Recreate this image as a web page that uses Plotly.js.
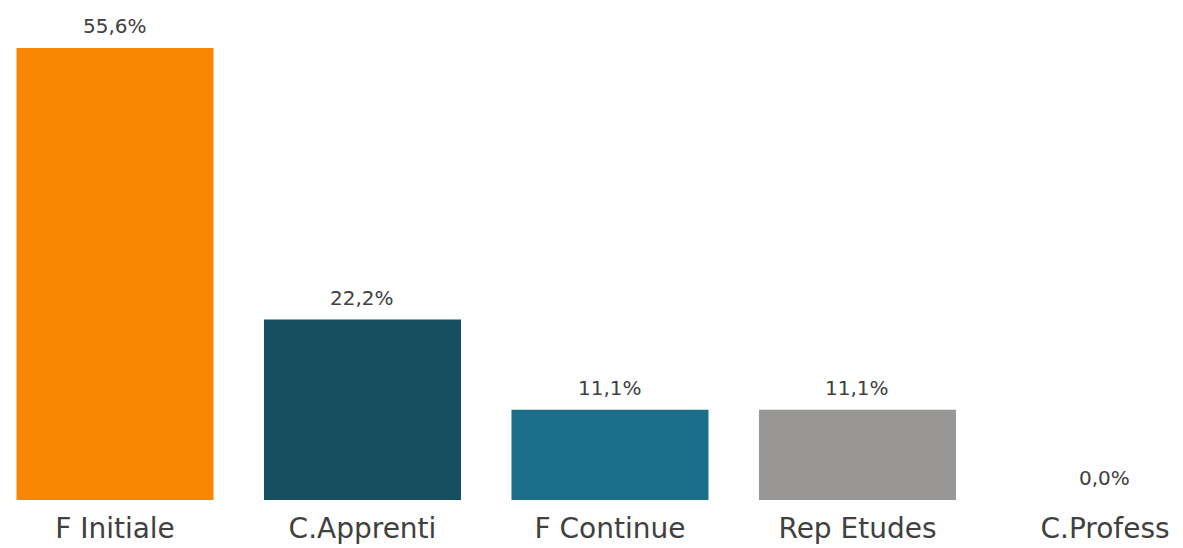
<!DOCTYPE html>
<html>
<head>
<meta charset="utf-8">
<script src="https://cdn.plot.ly/plotly-3.0.1.min.js"></script>
<style>html,body{margin:0;padding:0;background:#fff;}#chart{width:1183px;height:548px;}</style>
</head>
<body>
<div id="chart"></div>
<script>
const categories = ["F Initiale", "C.Apprenti", "F Continue", "Rep Etudes", "C.Profess"];
const values = [55.6, 22.2, 11.1, 11.1, 0.0];
const colors = ["#F98500", "#154E5E", "#1B6F8A", "#989795", "#989795"];

const trace = {
  type: "bar",
  x: categories,
  y: values,
  marker: {color: colors, line: {width: 0}},
  hoverinfo: "skip"
};

const annotations = categories.map((c, i) => ({
  x: c,
  y: values[i],
  xref: "x",
  yref: "y",
  text: values[i].toFixed(1).replace(".", ",") + "%",
  showarrow: false,
  yanchor: "bottom",
  yshift: 8,
  font: {family: "DejaVu Sans, sans-serif", size: 20, color: "#404040"}
}));

const layout = {
  width: 1183,
  height: 548,
  margin: {l: 0, r: 0, t: 12, b: 48, pad: 0},
  paper_bgcolor: "#ffffff",
  plot_bgcolor: "#ffffff",
  showlegend: false,
  bargap: 0.204,
  separators: ", ",
  xaxis: {
    type: "category",
    range: [-0.4646, 4.3152],
    showgrid: false,
    zeroline: false,
    showline: false,
    ticks: "",
    ticklabelstandoff: 9,
    tickfont: {family: "DejaVu Sans, sans-serif", size: 28, color: "#404040"},
    fixedrange: true
  },
  yaxis: {
    range: [0, 60.03],
    showgrid: false,
    zeroline: false,
    showline: false,
    showticklabels: false,
    ticks: "",
    fixedrange: true
  },
  annotations: annotations
};

Plotly.newPlot("chart", [trace], layout, {displayModeBar: false, staticPlot: true});
</script>
</body>
</html>
